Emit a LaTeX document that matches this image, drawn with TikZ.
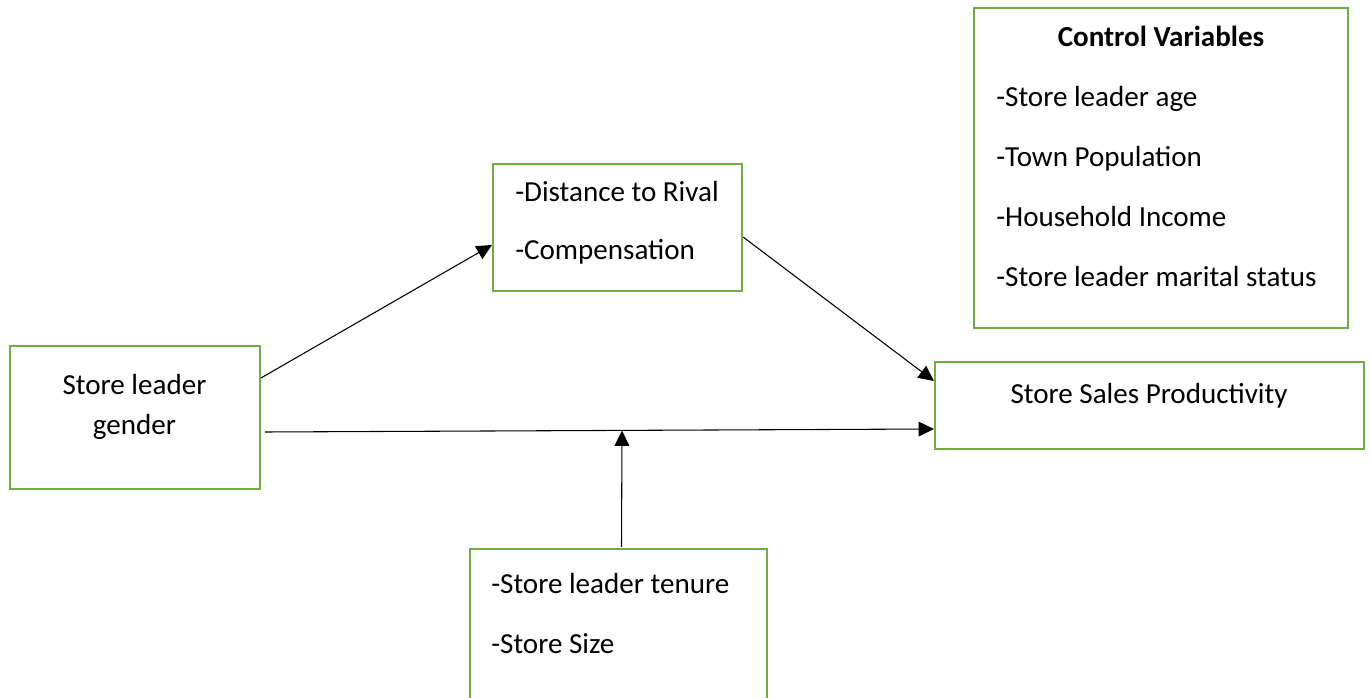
\documentclass[tikz,border=0pt]{standalone}
\usepackage{fontspec}
\setmainfont{Carlito}
\usetikzlibrary{arrows.meta,fit,calc}
\definecolor{boxgreen}{HTML}{70AD47}
\tikzset{
  box/.style={draw=boxgreen, line width=1.6pt, inner sep=0pt, fill=none},
  lbl/.style={inner sep=0pt, font=\fontsize{21.8}{30}\selectfont, text=black},
  arr/.style={draw=black, line width=0.8pt, -{Triangle[length=11.5pt,width=11pt]}},
}
\begin{document}
\begin{tikzpicture}[x=0.75pt,y=-0.75pt]
\clip (0,0) rectangle (1371,698);
\fill[white] (0,0) rectangle (1371,698);
% boxes
\node[box, fit={(10,346) (260,489)}] (gender) {};
\node[box, fit={(493,164) (742,291)}] (med) {};
\node[box, fit={(935,362) (1364,449)}] (out) {};
\node[box, fit={(470,549) (767,760)}] (mod) {};
\node[box, fit={(974,8) (1348,328)}] (ctrl) {};
% texts
\node[lbl, anchor=base] (g1) at (134.5,395) {Store leader};
\node[lbl, anchor=base] (g2) at (134.5,435) {gender};
\node[lbl, anchor=base west] (m1) at (515,202) {-Distance to Rival};
\node[lbl, anchor=base west] (m2) at (515,260) {-Compensation};
\node[lbl, anchor=base] (o1) at (1149,404) {Store Sales Productivity};
\node[lbl, anchor=base west] (d1) at (491,593) {-Store leader tenure};
\node[lbl, anchor=base west] (d2) at (491,653) {-Store Size};
\node[lbl, anchor=base, font=\fontsize{21.8}{30}\selectfont\bfseries] (c0) at (1161,47) {Control Variables};
\node[lbl, anchor=base west] (c1) at (996,107) {-Store leader age};
\node[lbl, anchor=base west] (c2) at (996,167) {-Town Population};
\node[lbl, anchor=base west] (c3) at (996,227) {-Household Income};
\node[lbl, anchor=base west] (c4) at (996,287) {-Store leader marital status};
% connectors
\draw[arr] ($(gender.north east)+(0,33)$) -- ($(med.west)+(0,17.5)$);
\draw[arr] ($(med.east)+(0,9.5)$) -- ($(out.west)+(0,-24.5)$);
\draw[arr] ($(gender.east)+(4,14.5)$) -- ($(out.west)+(0,23.5)$);
\coordinate (hit) at (622,430.5);
\draw[arr] ($(mod.north)+(3,-1)$) -- (hit);
\end{tikzpicture}
\end{document}
